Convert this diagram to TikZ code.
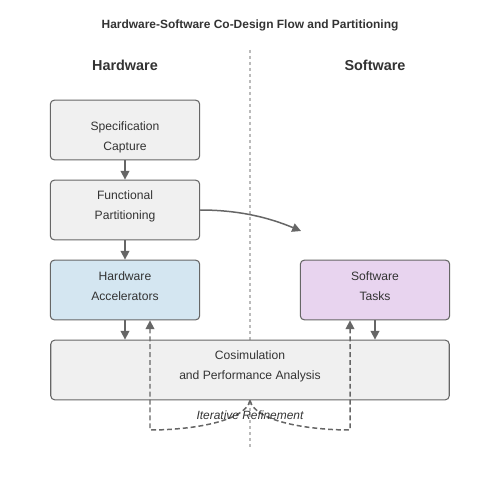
\documentclass[tikz,border=0pt]{standalone}
\usepackage{fontspec}
\setmainfont{Liberation Sans}
\usetikzlibrary{arrows.meta}
\definecolor{boxgray}{HTML}{F0F0F0}
\definecolor{edge}{HTML}{666666}
\definecolor{hwblue}{HTML}{D4E6F1}
\definecolor{swpurple}{HTML}{E8D4EF}
\definecolor{txt}{HTML}{333333}
\definecolor{divider}{HTML}{BBBBBB}
\tikzset{
  box/.style={draw=edge, line width=0.6pt, rounded corners=2.3pt, minimum width=85pt, minimum height=34pt, inner sep=0pt},
  lbl/.style={text=txt, font=\fontsize{6.9}{11.3}\selectfont, align=center, inner sep=0pt},
  conn/.style={draw=edge, line width=0.85pt, -{Triangle[length=5pt,width=5pt]}},
  fb/.style={draw=edge, line width=0.85pt, dash pattern=on 2.8pt off 1.7pt, -{Triangle[length=5pt,width=5pt]}},
}
\begin{document}
\begin{tikzpicture}[x=0.02cm, y=-0.02cm]
\useasboundingbox (0,0) rectangle (500,500);
\fill[white] (0,0) rectangle (500,500);
\node[text=txt, font=\bfseries\fontsize{6.8}{8}\selectfont] (title) at (250,25) {Hardware-Software Co-Design Flow and Partitioning};
\node[text=txt, font=\bfseries\fontsize{8.2}{10}\selectfont] (hwh) at (125,65) {Hardware};
\node[text=txt, font=\bfseries\fontsize{8.2}{10}\selectfont] (swh) at (375,65) {Software};
\coordinate (dtop) at (250,50);
\coordinate (dbot) at (250,450);
\draw[divider, line width=1.1pt, dash pattern=on 1.7pt off 1.7pt] (dtop) -- (dbot);

\node[box, fill=boxgray] (spec) at (125,130) {};
\node[lbl] (spect) at (125,137) {Specification\\Capture};
\node[box, fill=boxgray] (func) at (125,210) {};
\node[lbl] (funct) at (125,206) {Functional\\Partitioning};
\node[box, fill=hwblue] (hw) at (125,290) {};
\node[lbl] (hwt) at (125,286) {Hardware\\Accelerators};
\node[box, fill=swpurple] (sw) at (375,290) {};
\node[lbl] (swt) at (375,286) {Software\\Tasks};
\node[box, fill=boxgray, minimum width=226.8pt] (cos) at (250,370) {};
\node[lbl] (cost) at (250,366) {Cosimulation\\and Performance Analysis};

\draw[conn] (spec) -- (func);
\draw[conn] (func) -- (hw);
\draw[conn] (hw.south) -- (hw.south |- cos.north);
\draw[conn] (sw.south) -- (sw.south |- cos.north);
\coordinate (fend) at (301,231);
\draw[conn] (func.east) .. controls (240,210) and (270,218) .. (fend);

\coordinate (lc) at (150,430);
\coordinate (rc) at (350,430);
\draw[fb] (cos.south) .. controls (245,422) and (190,430) .. (lc) -- (lc |- hw.south);
\draw[fb] (cos.south) .. controls (255,422) and (310,430) .. (rc) -- (rc |- sw.south);
\node[text=txt, font=\itshape\fontsize{6.8}{8}\selectfont] (iter) at (250,415) {Iterative Refinement};
\end{tikzpicture}
\end{document}
